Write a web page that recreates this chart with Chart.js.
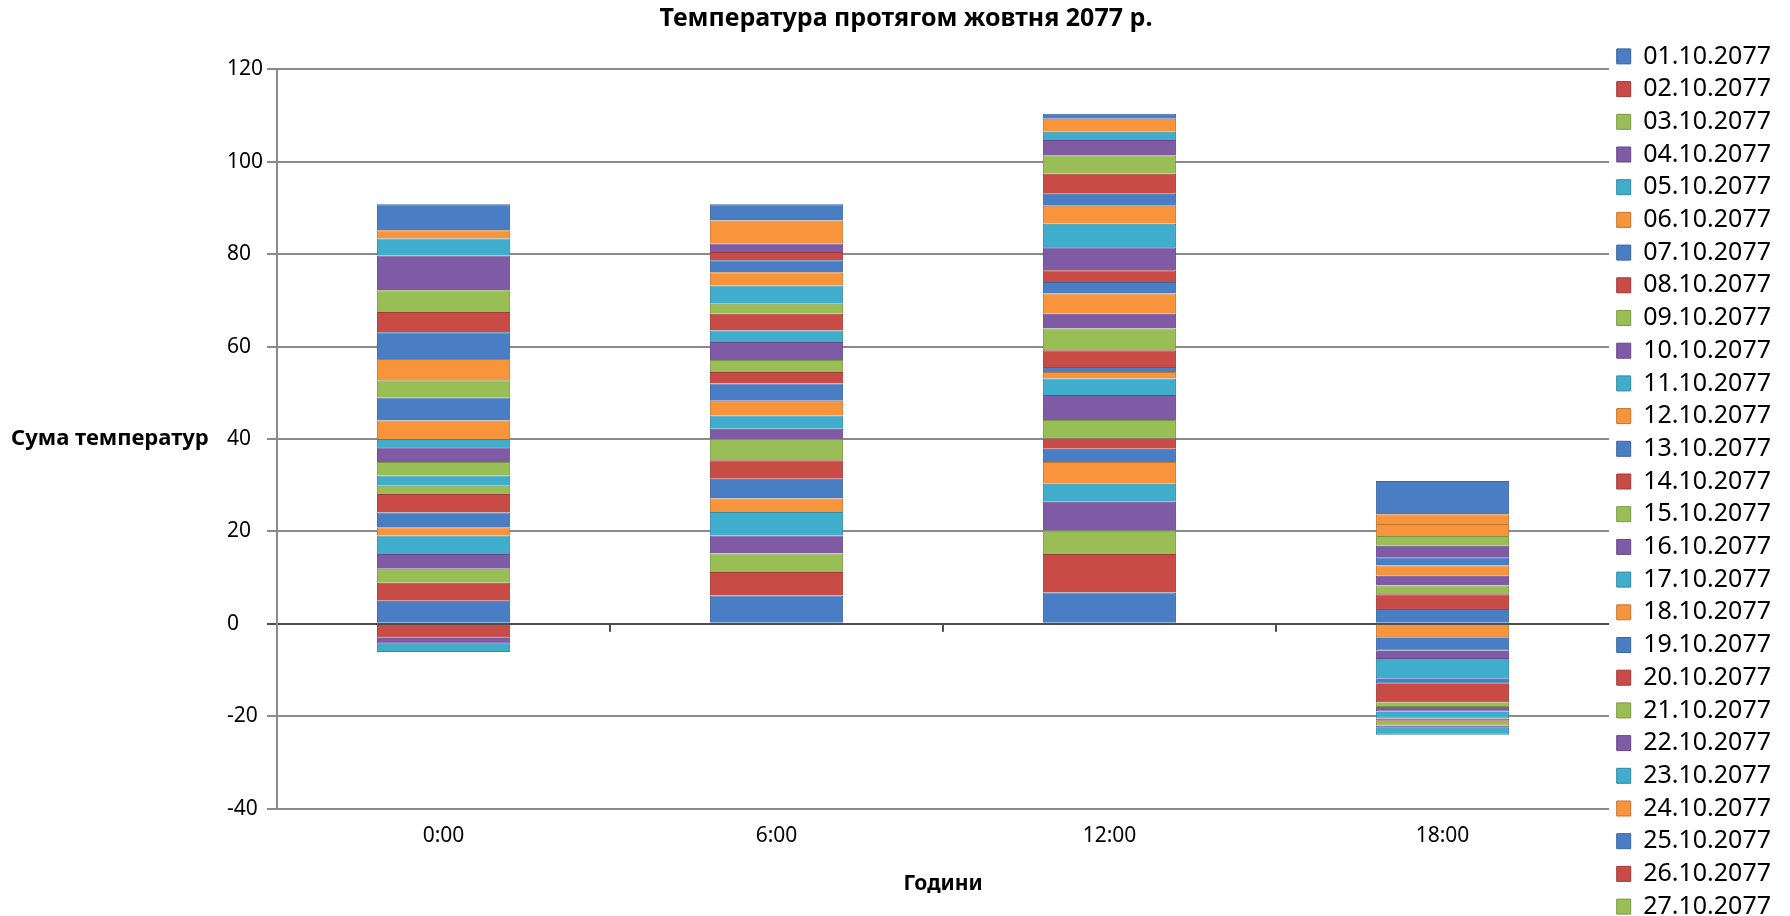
<!DOCTYPE html>
<html>
<head>
<meta charset="utf-8">
<title>Температура протягом жовтня 2077 р.</title>
<script src="https://cdn.jsdelivr.net/npm/chart.js@4.4.1/dist/chart.umd.min.js"></script>
<style>
    html, body { margin: 0; padding: 0; background: #fff; overflow: hidden; }
    #wrap { position: relative; width: 1790px; height: 963px; }
</style>
</head>
<body>
<div id="wrap"><canvas id="myChart"></canvas></div>
<script>
"use strict";

const hours = ['0:00', '6:00', '12:00', '18:00'];

const days = [
    '01.10.2077', '02.10.2077', '03.10.2077', '04.10.2077', '05.10.2077', '06.10.2077',
    '07.10.2077', '08.10.2077', '09.10.2077', '10.10.2077', '11.10.2077', '12.10.2077',
    '13.10.2077', '14.10.2077', '15.10.2077', '16.10.2077', '17.10.2077', '18.10.2077',
    '19.10.2077', '20.10.2077', '21.10.2077', '22.10.2077', '23.10.2077', '24.10.2077',
    '25.10.2077', '26.10.2077', '27.10.2077', '28.10.2077', '29.10.2077', '30.10.2077',
    '31.10.2077'
];

// температура по днях, окремо для кожної години
const t0000 = [5, 3.9, 3, 3.2, 4, 1.8, 3.2, 4, 1.8, 0, 2.2, 0, 0, -2.9, 2.9, 3.2,
    1.8, 4, 5, 0, 3.7, -1.4, -1.8, 4.6, 5.8, 4.4, 4.7, 7.5, 3.7, 1.8, 5.6];
const t0600 = [6.1, 5.1, 4, 3.9, 5.1, 2.9, 4.3, 4, 4.6, 2.2, 2.9, 3.2, 3.7, 2.5, 2.6, 3.9,
    2.5, 0, 0, 3.6, 2.2, 0, 3.9, 2.9, 2.6, 1.8, 0, 1.8, 0, 5, 3.5];
const t1200 = [6.8, 8.3, 5.1, 6.2, 3.9, 4.7, 2.9, 2.2, 4, 5.4, 3.6, 1.4, 1.1, 3.6, 4.7, 3.2,
    0, 4.4, 2.5, 2.5, 0, 5, 5.1, 3.9, 2.6, 4.3, 4, 3.3, 1.8, 2.8, 1.1];
const t1800 = [3.2, 3.2, 1.9, 2.1, 0, 2.2, 1.8, 0, 0, 2.5, 0, -2.9, -2.9, 0, 2.1, -1.8,
    -4.2, 2.6, -1.2, -4, -1, -1, -1.5, 2.1, 0, -0.5, -1, -0.5, -1.5, 0, 7.2];

const chartTitle = 'Температура протягом жовтня 2077 р.';
const yTitle = 'Сума температур';

const fills = ['#4A7EC4', '#C84B46', '#99BE55', '#7F5BA6', '#40ADCC', '#F7943C'];
const edges = ['#3B659C', '#A03C38', '#7A9844', '#654885', '#338AA3', '#C57630'];

const datasets = days.map(function (day, i) {
    return {
        label: day,
        data: [t0000[i], t0600[i], t1200[i], t1800[i]],
        backgroundColor: fills[i % 6],
        borderColor: edges[i % 6],
        borderWidth: 1
    };
});

// заголовок і підпис осі Y малюємо самі (як в Excel), плюс засічки на нулі
const extras = {
    id: 'extras',
    afterDraw(chart) {
        const {ctx, chartArea, scales: {x, y}} = chart;
        ctx.save();
        ctx.fillStyle = '#000';
        ctx.textBaseline = 'middle';

        ctx.font = 'bold 25px "Noto Sans"';
        ctx.textAlign = 'center';
        ctx.fillText(chartTitle, 906, 19);

        ctx.font = 'bold 22px "Noto Sans"';
        ctx.textAlign = 'left';
        ctx.fillText(yTitle, 11, (chartArea.top + chartArea.bottom) / 2);

        const y0 = y.getPixelForValue(0);
        ctx.strokeStyle = '#4d4d4d';
        ctx.lineWidth = 2;
        for (let i = 0; i < hours.length - 1; i++) {
            const xb = (x.getPixelForTick(i) + x.getPixelForTick(i + 1)) / 2;
            ctx.beginPath();
            ctx.moveTo(xb, y0);
            ctx.lineTo(xb, y0 + 8);
            ctx.stroke();
        }
        ctx.restore();
    }
};

Chart.defaults.font.family = '"Noto Sans", sans-serif';
Chart.defaults.color = '#000';

const ctx = document.getElementById('myChart');
const myChart = new Chart(ctx, {
    type: 'bar',
    data: {
        labels: hours,
        datasets: datasets
    },
    options: {
        responsive: true,
        maintainAspectRatio: false,
        animation: false,
        layout: {
            padding: {left: 227, right: 9, top: 0, bottom: 0}
        },
        datasets: {
            bar: {categoryPercentage: 1, barPercentage: 0.4}
        },
        plugins: {
            // місце під заголовок (сам текст малює extras)
            title: {
                display: true,
                text: '',
                font: {size: 22, weight: 'bold'},
                padding: {top: 6, bottom: 37}
            },
            legend: {
                position: 'right',
                align: 'center',
                labels: {
                    boxWidth: 14,
                    boxHeight: 15,
                    padding: 7.7,
                    font: {size: 25},
                    color: '#000',
                    // видно лише перші 27 днів, решта обрізана
                    filter: item => item.datasetIndex < 27
                }
            },
            tooltip: {enabled: false}
        },
        scales: {
            x: {
                stacked: true,
                grid: {display: false, drawTicks: false},
                border: {display: false},
                ticks: {padding: 15, font: {size: 21}, color: '#000'},
                title: {
                    display: true,
                    text: 'Години',
                    font: {size: 21, weight: 'bold'},
                    color: '#000',
                    padding: {top: 8, bottom: 66}
                }
            },
            y: {
                stacked: true,
                min: -40,
                max: 120,
                ticks: {stepSize: 20, crossAlign: 'far', padding: 2, font: {size: 21}, color: '#000'},
                grid: {
                    color: c => c.tick && c.tick.value === 0 ? '#4d4d4d' : '#8a8a8a',
                    lineWidth: 2,
                    tickLength: 10
                },
                border: {color: '#8a8a8a', width: 2}
            }
        }
    },
    plugins: [extras]
});
</script>
</body>
</html>
